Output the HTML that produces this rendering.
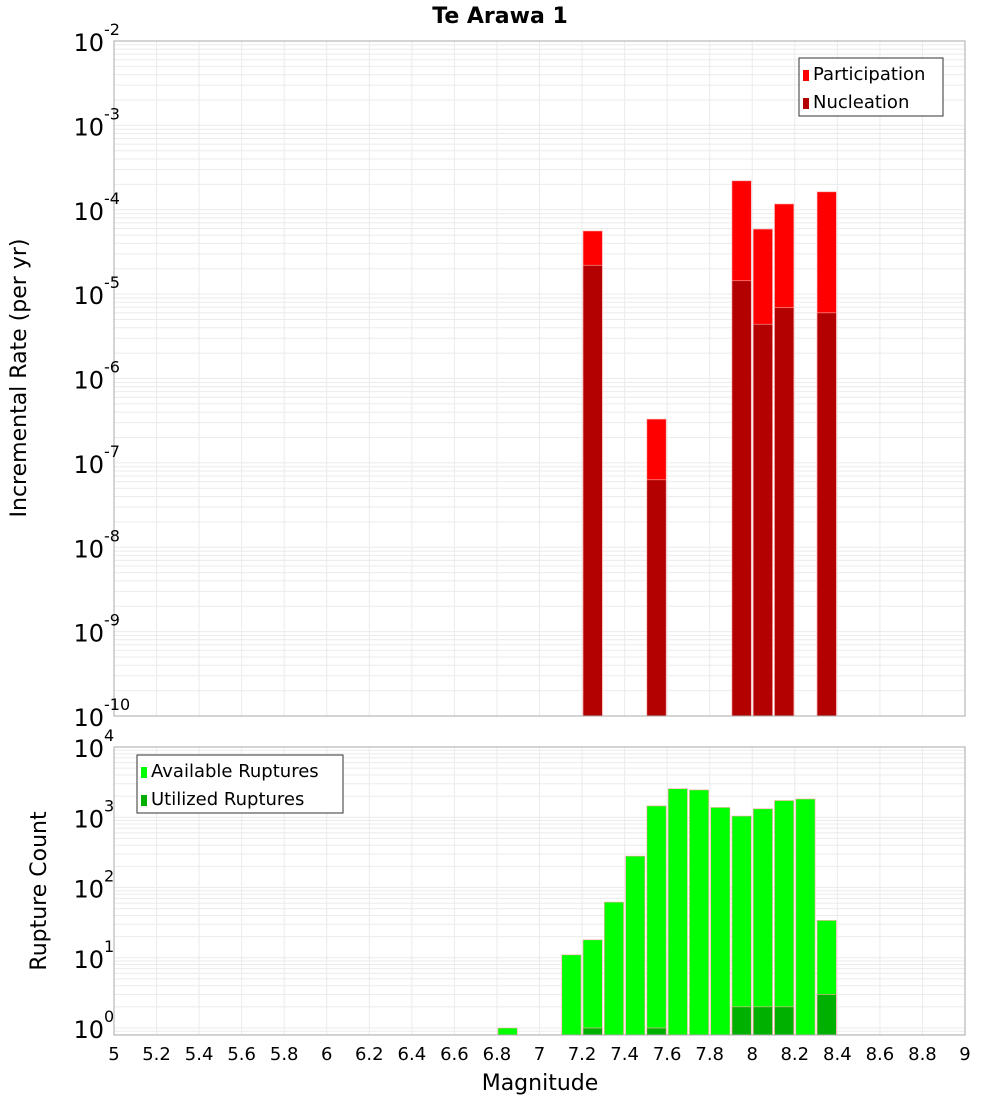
<!DOCTYPE html>
<html><head><meta charset="utf-8"><style>
body{margin:0;background:#fff;}
svg text{font-family:"DejaVu Sans","Liberation Sans",sans-serif;}
</style></head><body>
<svg id="c" width="1000" height="1100" xmlns="http://www.w3.org/2000/svg"></svg>
<script>
const mags=[6.85,7.15,7.25,7.35,7.45,7.55,7.65,7.75,7.85,7.95,8.05,8.15,8.25,8.35];
const available=[1,11,18,62,280,1450,2550,2450,1380,1040,1320,1730,1820,34];
const utilMags=[7.25,7.55,7.95,8.05,8.15,8.35];
const utilized=[1,1,2,2,2,3];
const rateMags=[7.25,7.55,7.95,8.05,8.15,8.35];
const participation=[5.6e-5,3.3e-7,2.2e-4,5.9e-5,1.17e-4,1.63e-4];
const nucleation=[2.2e-5,6.3e-8,1.44e-5,4.4e-6,6.9e-6,6.0e-6];
const xTicks=["5","5.2","5.4","5.6","5.8","6","6.2","6.4","6.6","6.8","7","7.2","7.4","7.6","7.8","8","8.2","8.4","8.6","8.8","9"];
const topExps=[-2,-3,-4,-5,-6,-7,-8,-9,-10];
const botExps=[4,3,2,1,0];

const NS="http://www.w3.org/2000/svg";
const svg=document.getElementById('c');
function mk(tag,attrs,parent){const e=document.createElementNS(NS,tag);for(const k in attrs)e.setAttribute(k,attrs[k]);(parent||svg).appendChild(e);return e;}
const L=114,R=965;
const x=m=>L+(m-5)/4*(R-L);
const T1=41,B1=716; const y1=v=>T1+(-2-Math.log10(v))/8*(B1-T1);
const T2=747,B2=1035; const dec2=70.25; const y2=v=>1028-Math.log10(v)*dec2;

function grid(top,bot,yf,lo,hi,name){
  const g=mk('g',{});
  
  
  for(let e=lo;e<hi;e++)for(let k=1;k<10;k++){const yy=yf(k*Math.pow(10,e));if(yy<top||yy>bot)continue;
    mk('line',{x1:L,x2:R,y1:yy,y2:yy,stroke:'#ebebeb','stroke-width':1},g);}
  for(let i=0;i<xTicks.length;i++){const xx=x(5+0.2*i);mk('line',{x1:xx,x2:xx,y1:top,y2:bot,stroke:'#ebebeb','stroke-width':1},g);}
}
grid(T1,B1,y1,-10,-2,'top-grid');
grid(T2,B2,y2,-1,4,'bottom-grid');

const bw=(R-L)/40;
function bar(m,v,base,yf,fill,name){
  const r=mk('rect',{x:x(m)-bw/2+1,y:yf(v),width:bw-2,height:base-yf(v),fill:fill,stroke:'#ffaaaa','stroke-width':0.6});
  
  
}
for(let i=0;i<rateMags.length;i++){bar(rateMags[i],participation[i],B1,y1,'#ff0000','participation-bar');}
for(let i=0;i<rateMags.length;i++){bar(rateMags[i],nucleation[i],B1,y1,'#b30000','nucleation-bar');}
for(let i=0;i<mags.length;i++){bar(mags[i],available[i],B2,y2,'#00ff00','available-bar');}
for(let i=0;i<utilMags.length;i++){bar(utilMags[i],utilized[i],B2,y2,'#00b000','utilized-bar');}

mk('rect',{x:L,y:T1,width:R-L,height:B1-T1,fill:'none',stroke:'#aaaaaa'});
mk('rect',{x:L,y:T2,width:R-L,height:B2-T2,fill:'none',stroke:'#aaaaaa'});

function ylab(e,yy,name){
  const t=mk('text',{x:104,y:yy+10,'text-anchor':'end','font-size':24,fill:'#000'});
  
  
  t.textContent='10';
  const s=mk('text',{x:104,y:yy-6,'font-size':16,fill:'#000'});
  s.textContent=String(e);
}
topExps.forEach(e=>ylab(e,y1(Math.pow(10,e)),'top-y-tick'));
botExps.forEach(e=>ylab(e,e===4?T2:y2(Math.pow(10,e)),'bottom-y-tick'));
xTicks.forEach((s,i)=>{const t=mk('text',{x:x(5+0.2*i),y:1060,'text-anchor':'middle','font-size':18,fill:'#000'});
  
  
  t.textContent=s;});

let t;
t=mk('text',{x:500,y:23,'text-anchor':'middle','font-size':22,'font-weight':'bold'});t.textContent='Te Arawa 1';

t=mk('text',{x:540,y:1090,'text-anchor':'middle','font-size':22});t.textContent='Magnitude';

t=mk('text',{x:0,y:0,'text-anchor':'middle','font-size':22,transform:'translate(26,378) rotate(-90)'});t.textContent='Incremental Rate (per yr)';

t=mk('text',{x:0,y:0,'text-anchor':'middle','font-size':22,transform:'translate(46,891) rotate(-90)'});t.textContent='Rupture Count';


function legend(x0,y0,w,items,name){
  const g=mk('g',{});
  
  
  mk('rect',{x:x0,y:y0,width:w,height:58,fill:'#fff',stroke:'#333'},g);
  items.forEach((it,i)=>{mk('rect',{x:x0+4,y:y0+12+i*28,width:6,height:11,fill:it[1]},g);
    const tt=mk('text',{x:x0+14,y:y0+22+i*28,'font-size':18},g);tt.textContent=it[0];});
}
legend(799,58,144,[['Participation','#ff0000'],['Nucleation','#b30000']],'top-legend');
legend(137,755,206,[['Available Ruptures','#00ff00'],['Utilized Ruptures','#00b000']],'bottom-legend');
</script>
</body></html>
